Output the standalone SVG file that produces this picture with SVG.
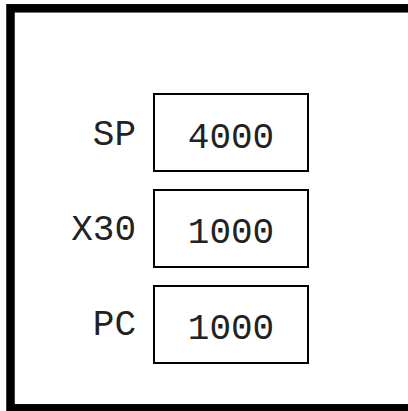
<svg xmlns="http://www.w3.org/2000/svg" width="408" height="411" viewBox="0 0 408 411">
<style>
.frame{fill:none;stroke:#000;stroke-width:8.5}
.box{fill:#fff;stroke:#000;stroke-width:2}
.t{font-family:"Liberation Mono","Courier New",monospace;font-size:36px;fill:#222}
.lbl{text-anchor:end}
.val{text-anchor:middle}
</style>
<rect width="408" height="411" fill="#fff"/>
<rect class="frame" x="10.5" y="8.3" width="430" height="400"/>
<g id="sp">
<text class="t lbl" x="136" y="145">SP</text>
<rect class="box" x="154" y="94" width="154" height="77"/>
<text class="t val" x="231" y="148">4000</text>
</g>
<g id="x30">
<text class="t lbl" x="136" y="240">X30</text>
<rect class="box" x="154" y="190" width="154" height="77"/>
<text class="t val" x="231" y="243">1000</text>
</g>
<g id="pc">
<text class="t lbl" x="136" y="335">PC</text>
<rect class="box" x="154" y="286" width="154" height="77"/>
<text class="t val" x="231" y="339">1000</text>
</g>
<g id="connectors"/>
</svg>
